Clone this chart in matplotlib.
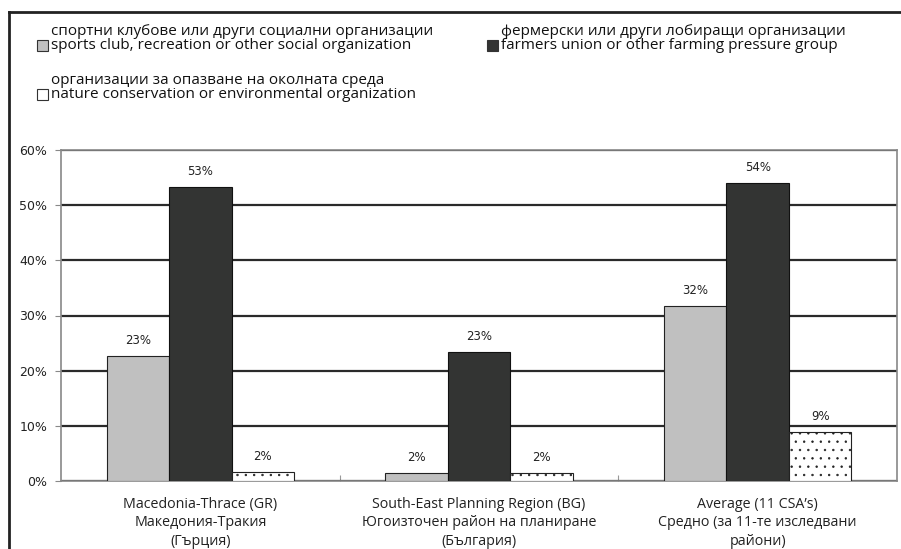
import numpy as np
import matplotlib.pyplot as plt
from matplotlib.patches import Rectangle
from matplotlib.lines import Line2D

plt.rcParams['font.family'] = ['Open Sans', 'DejaVu Sans']
plt.rcParams['hatch.linewidth'] = 0.5

categories = [
    "Macedonia-Thrace (GR)\nМакедония-Тракия\n(Гърция)",
    "South-East Planning Region (BG)\nЮгоизточен район на планиране\n(България)",
    "Average (11 CSA’s)\nСредно (за 11-те изследвани\nрайони)",
]
sports = [22.7, 1.5, 31.7]
farmers = [53.3, 23.4, 54.0]
nature = [1.7, 1.5, 8.9]

series_names = [
    "спортни клубове или други социални организации\nsports club, recreation or other social organization",
    "фермерски или други лобиращи организации\nfarmers union or other farming pressure group",
    "организации за опазване на околната среда\nnature conservation or environmental organization",
]
yticks = [0, 10, 20, 30, 40, 50, 60]

fig = plt.figure(figsize=(9.01, 5.49), dpi=100)
ax = fig.add_axes([61/901, 1-481/549, 836/901, 331/549])

x = np.arange(len(categories))
w = 0.224
styles = [
    dict(color="#c0c0c0", edgecolor="#222222", hatch=None),
    dict(color="#333433", edgecolor="#111111", hatch=None),
    dict(color="white", edgecolor="#222222", hatch=".."),
]
data = [sports, farmers, nature]
for i, (vals, st) in enumerate(zip(data, styles)):
    pos = x + (i - 1) * w
    ax.bar(pos, vals, width=w, color=st["color"], edgecolor=st["edgecolor"],
           hatch=st["hatch"], linewidth=0.8, zorder=3)
    for px, v in zip(pos, vals):
        ax.text(px, v + 1.6, f"{round(v):d}%", ha="center", va="bottom",
                fontsize=8.5, family="DejaVu Sans", color="#222222")

ax.set_xlim(-0.5, 2.5)
ax.set_ylim(0, 60)
ax.set_yticks(yticks)
ax.set_yticklabels([f"{t}%" for t in yticks], fontsize=9, family="DejaVu Sans",
                   color="#222222")
ax.yaxis.grid(True, color="#2a2a2a", linewidth=1.6, zorder=0)
ax.set_axisbelow(True)
ax.set_xticks([0.5, 1.5])
ax.set_xticklabels([])
ax.tick_params(axis="x", length=4, color="#999999", direction="in")
ax.tick_params(axis="y", length=4, color="#888888", pad=6)
for s in ["top", "right", "left", "bottom"]:
    ax.spines[s].set_color("#888888")
    ax.spines[s].set_linewidth(1.2)

for xi, lab in zip(x, categories):
    ax.text(xi, -2.9, lab, ha="center", va="top", fontsize=10.3,
            linespacing=1.3, color="#222222", clip_on=False)

# legend drawn by hand
leg_pos = [(37, 40), (487, 40), (37, 89)]
for (lx, ly), name, st in zip(leg_pos, series_names, styles):
    fig.add_artist(Rectangle((lx/901, 1-(ly+11)/549), 11/901, 11/549,
                             transform=fig.transFigure, facecolor=st["color"],
                             edgecolor="#333333", linewidth=0.8, hatch=None))
    fig.text((lx+14)/901, 1-(ly+13)/549, name, ha="left", va="bottom",
             fontsize=11, linespacing=0.95, color="#111111")

# outer frame
fig.add_artist(Line2D([9/901, 1], [1-12/549, 1-12/549], color="#222222",
                      linewidth=2, transform=fig.transFigure))
fig.add_artist(Line2D([9/901, 9/901], [0, 1-12/549], color="#222222",
                      linewidth=2, transform=fig.transFigure))

fig.savefig("out.png", dpi=100)
